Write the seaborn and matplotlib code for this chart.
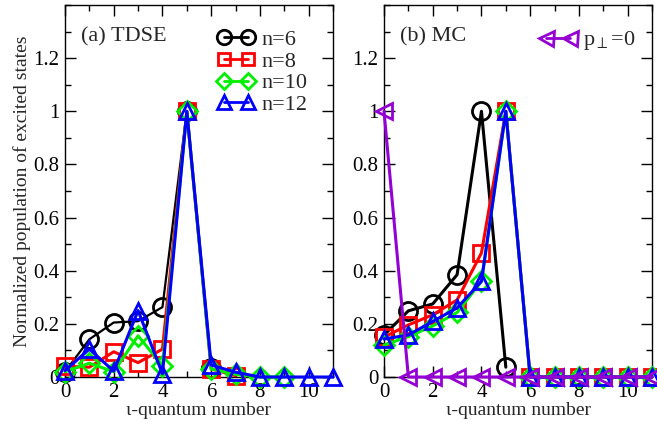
import matplotlib
matplotlib.use("Agg")
import matplotlib.pyplot as plt
from matplotlib.ticker import MultipleLocator, FixedLocator, FuncFormatter
from matplotlib.lines import Line2D
import seaborn as sns
import pandas as pd

sns.set_theme(style="ticks")
plt.rcParams['font.family'] = ['Liberation Serif', 'DejaVu Serif']
plt.rcParams['mathtext.fontset'] = 'stix'

# ---- data: panel (a) TDSE ----
a_x6 = [0, 1, 2, 3, 4, 5, 6]
a_n6 = [0.02, 0.142, 0.205, 0.21, 0.263, 1.0, 0.032]
a_x8 = [0, 1, 2, 3, 4, 5, 6, 7]
a_n8 = [0.04, 0.037, 0.095, 0.054, 0.105, 1.0, 0.03, 0.005]
a_x10 = [0, 1, 2, 3, 4, 5, 6, 7, 8, 9]
a_n10 = [0.02, 0.052, 0.02, 0.155, 0.042, 1.0, 0.03, 0.01, 0.0, 0.0]
a_x12 = [0, 1, 2, 3, 4, 5, 6, 7, 8, 9, 10, 11]
a_n12 = [0.024, 0.105, 0.022, 0.25, 0.012, 1.0, 0.045, 0.018, 0.0, 0.0, 0.0, 0.0]

# ---- data: panel (b) MC ----
b_x6 = [0, 1, 2, 3, 4, 5]
b_n6 = [0.158, 0.249, 0.275, 0.385, 1.0, 0.037]
b_x = [0, 1, 2, 3, 4, 5, 6, 7, 8, 9, 10, 11]
b_n8 = [0.15, 0.196, 0.234, 0.29, 0.467, 1.0, 0.0, 0.0, 0.0, 0.0, 0.0, 0.0]
b_n10 = [0.12, 0.152, 0.192, 0.243, 0.36, 1.0, 0.0, 0.0, 0.0, 0.0, 0.0, 0.0]
b_n12 = [0.143, 0.158, 0.209, 0.26, 0.36, 1.0, 0.0, 0.0, 0.0, 0.0, 0.0, 0.0]
b_p0 = [1.0, 0.0, 0.0, 0.0, 0.0, 0.0, 0.0, 0.0, 0.0, 0.0, 0.0, 0.0]

labels = ["n=6", "n=8", "n=10", "n=12"]
colors = ["black", "red", "#00ee00", "blue"]
markers = ["o", "s", "D", "^"]
msizes = [13, 11, 10, 12]
purple = "#9400d3"

fig = plt.figure(figsize=(6.57, 4.29), dpi=100)
axA = fig.add_axes([65/657, 1-377/429, 268/657, 372/429])
axB = fig.add_axes([384/657, 1-377/429, 268/657, 372/429])

def draw(ax, x, y, color, marker, ms, lw=2.0):
    sns.lineplot(x=x, y=y, ax=ax, color=color, marker=marker, markersize=ms,
                 markerfacecolor='none', markeredgecolor=color, markeredgewidth=2.0,
                 linewidth=lw, estimator=None, sort=False, clip_on=False, zorder=3)

A = [(a_x6, a_n6), (a_x8, a_n8), (a_x10, a_n10), (a_x12, a_n12)]
for i, (x, y) in enumerate(A):
    draw(axA, x, y, colors[i], markers[i], msizes[i], lw=1.6 if i == 0 else 2.2)

B = [(b_x6, b_n6), (b_x, b_n8), (b_x, b_n10), (b_x, b_n12)]
for i, (x, y) in enumerate(B):
    draw(axB, x, y, colors[i], markers[i], msizes[i], lw=2.2)
draw(axB, b_x, b_p0, purple, "<", 12, lw=2.2)

fmt = FuncFormatter(lambda v, p: "%g" % round(v, 3))
for ax in (axA, axB):
    ax.set_xlim(0, 11)
    ax.set_ylim(0, 1.4)
    ax.xaxis.set_major_locator(FixedLocator([0, 2, 4, 6, 8, 10]))
    ax.xaxis.set_minor_locator(MultipleLocator(1))
    ax.yaxis.set_major_locator(FixedLocator([0, 0.2, 0.4, 0.6, 0.8, 1.0, 1.2]))
    ax.yaxis.set_minor_locator(MultipleLocator(0.1))
    ax.yaxis.set_major_formatter(fmt)
    ax.xaxis.set_major_formatter(fmt)
    ax.tick_params(which='both', direction='in', top=True, right=True,
                   labelsize=15, width=1.0, colors='black')
    ax.tick_params(which='major', length=8, pad=4)
    ax.tick_params(which='minor', length=4)
    for s in ax.spines.values():
        s.set_linewidth(1.0)
        s.set_color('black')
    ax.set_xlabel("ι-quantum number", fontsize=14, labelpad=0)
    ax.set_ylabel("")

axA.set_ylabel("Normalized population of excited states", fontsize=14, labelpad=2)
axA.text(0.06, 0.915, "(a) TDSE", transform=axA.transAxes, fontsize=16, va='center')
axB.text(0.06, 0.915, "(b) MC", transform=axB.transAxes, fontsize=16, va='center')

hA = [Line2D([], [], color=colors[i], marker=markers[i], markersize=msizes[i],
             markerfacecolor='none', markeredgewidth=2.0, linewidth=2.0)
      for i in range(4)]
axA.legend(hA, labels, loc='upper right', bbox_to_anchor=(0.955, 0.97), frameon=False,
           fontsize=16, numpoints=2, markerscale=0.8, handlelength=1.7, handletextpad=0.3,
           labelspacing=0.05, borderaxespad=0.2)
hB = [Line2D([], [], color=purple, marker="<", markersize=12,
             markerfacecolor='none', markeredgewidth=2.0, linewidth=2.0)]
axB.legend(hB, [r"p$_{\perp}$=0"], loc='upper right', bbox_to_anchor=(0.99, 0.97),
           frameon=False, fontsize=16, numpoints=2, markerscale=0.9, handlelength=1.7,
           handletextpad=0.3, borderaxespad=0.2)

fig.savefig("out.png", dpi=100)
